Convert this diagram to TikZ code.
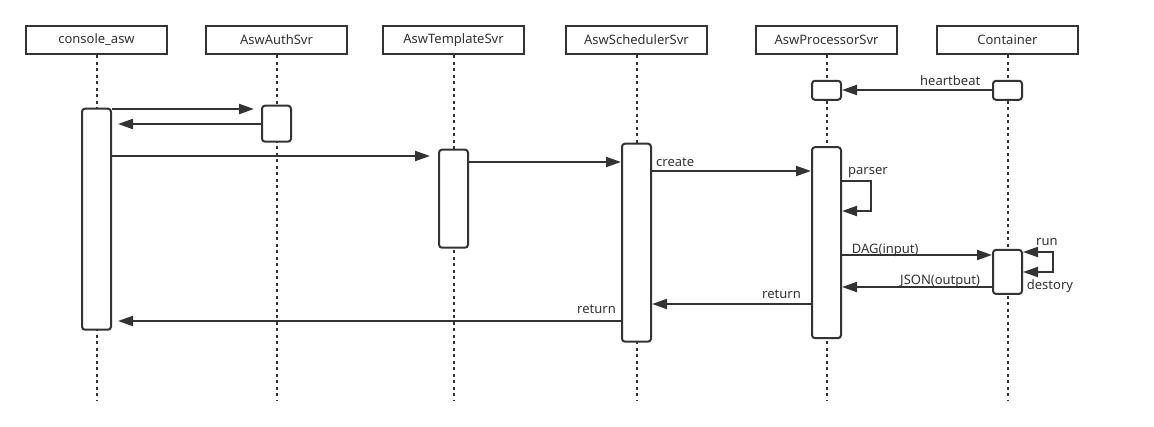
\documentclass[tikz,border=0pt]{standalone}
\usepackage{fontspec}
\setmainfont{Noto Sans}
\usetikzlibrary{arrows.meta}
\definecolor{ink}{HTML}{333333}
\begin{document}
\begin{tikzpicture}[x=1pt,y=-1pt,
 hdr/.style={draw=ink, line width=2pt, minimum width=141pt, minimum height=28pt, inner sep=0pt, font=\fontsize{13}{15}\selectfont, text=ink, fill=white},
 act/.style={draw=ink, line width=2pt, rounded corners=3pt, minimum width=29pt, inner sep=0pt, fill=white},
 life/.style={draw=ink, line width=2pt, dash pattern=on 3pt off 3.5pt},
 msg/.style={draw=ink, line width=2pt, -{Triangle[length=15pt,width=10pt]}},
 loopmsg/.style={draw=ink, line width=2pt, {Triangle[length=15pt,width=10pt]}-{Triangle[length=15pt,width=10pt]}},
 lbl/.style={font=\fontsize{13}{15}\selectfont, text=ink, inner sep=0pt, anchor=base west},
]
\fill[white] (0,0) rectangle (1154,426);
\useasboundingbox (0,0) rectangle (1154,426);

% headers
\node[hdr] (h1) at (96.5,40) {console\_asw};
\node[hdr] (h2) at (276.5,40) {AswAuthSvr};
\node[hdr] (h3) at (453.5,40) {AswTemplateSvr};
\node[hdr] (h4) at (636.5,40) {AswSchedulerSvr};
\node[hdr] (h5) at (826.5,40) {AswProcessorSvr};
\node[hdr] (h6) at (1007.5,40) {Container};

% lifeline ends
\coordinate (e1) at (96.5,400);
\coordinate (e2) at (276.5,400);
\coordinate (e3) at (453.5,400);
\coordinate (e4) at (636.5,400);
\coordinate (e5) at (826.5,400);
\coordinate (e6) at (1007.5,400);
\foreach \i in {1,...,6} \draw[life] (h\i.south) -- (e\i);

% activations
\node[act, minimum height=221pt] (a1) at (96.5,219.2) {};
\node[act, minimum height=36pt] (a2) at (276.5,123.7) {};
\node[act, minimum height=98pt] (a3) at (453.5,198.7) {};
\node[act, minimum height=198pt] (a4) at (636.5,242.7) {};
\node[act, minimum height=19pt] (a5) at (826.5,90.3) {};
\node[act, minimum height=19pt] (a6) at (1007.5,90.3) {};
\node[act, minimum height=191pt] (a7) at (826.5,242.7) {};
\node[act, minimum height=44pt] (a8) at (1007.5,271.9) {};

% message levels
\coordinate (y1) at (0,109);
\coordinate (y2) at (0,124);
\coordinate (y3) at (0,156);
\coordinate (y4) at (0,162);
\coordinate (y5) at (0,171);
\coordinate (y6) at (0,90);
\coordinate (y7) at (0,181);
\coordinate (y8) at (0,211);
\coordinate (y9) at (0,255);
\coordinate (y10) at (0,287);
\coordinate (y11) at (0,252);
\coordinate (y12) at (0,272);
\coordinate (y13) at (0,304);
\coordinate (y14) at (0,321);

% messages
\draw[msg, shorten >=7pt] (a1.east |- y1) -- (a2.west |- y1);
\draw[msg, shorten >=6pt] (a2.west |- y2) -- (a1.east |- y2);
\draw[msg, shorten >=8pt] (a1.east |- y3) -- (a3.west |- y3);
\draw[msg] (a3.east |- y4) -- (a4.west |- y4);
\draw[msg] (a4.east |- y5) -- (a7.west |- y5);
\draw[msg] (a6.west |- y6) -- (a5.east |- y6);
\draw[msg] (a7.east |- y7) -- ++(29,0) -- ++(0,30) -- (a7.east |- y8);
\draw[msg] (a7.east |- y9) -- (a8.west |- y9);
\draw[msg] (a8.west |- y10) -- (a7.east |- y10);
\draw[loopmsg] (a8.east |- y11) -- ++(30,0) -- ++(0,20) -- (a8.east |- y12);
\draw[msg] (a7.west |- y13) -- (a4.east |- y13);
\draw[msg, shorten >=6pt] (a4.west |- y14) -- (a1.east |- y14);

% labels
\node[lbl] (l1) at (920,85) {heartbeat};
\node[lbl] (l2) at (656,166.5) {create};
\node[lbl] (l3) at (848,174.5) {parser};
\node[lbl] (l4) at (851.7,253.3) {DAG(input)};
\node[lbl] (l5) at (900,284) {JSON(output)};
\node[lbl] (l6) at (1036,245) {run};
\node[lbl] (l7) at (1026.7,289.5) {destory};
\node[lbl] (l8) at (762,298) {return};
\node[lbl] (l9) at (577,313) {return};
\end{tikzpicture}
\end{document}
